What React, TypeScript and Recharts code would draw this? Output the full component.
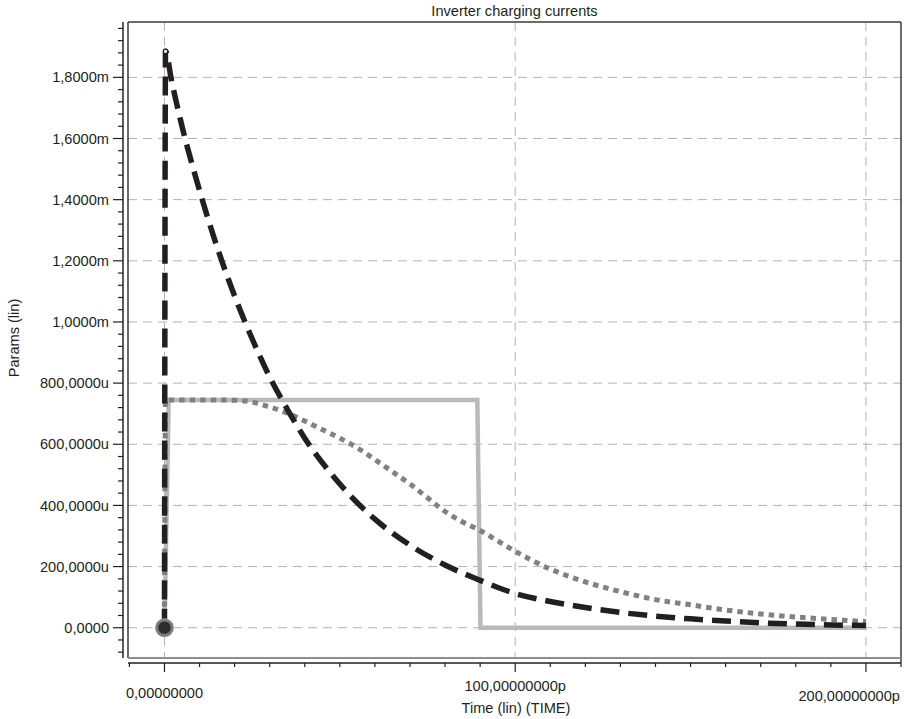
// InverterChargingChart.tsx
import { LineChart, Line, XAxis, YAxis, CartesianGrid } from "recharts";

const WIDTH = 904;
const HEIGHT = 719;
const PLOT = { left: 128, top: 22, right: 901, bottom: 658 };
const AXIS_GAP = 5;
const FONT = "'Liberation Sans', Arial, Helvetica, sans-serif";
const FONT_SIZE = 14.6;
const INK = "#231f20";

// time in ps, currents in uA
const darkTime = [0, 0.3, 2, 5, 10, 15, 20, 25, 30, 35, 40, 50, 60, 70, 80, 90, 100, 110, 120, 130, 140, 150, 160, 170, 180, 190, 200];
const darkCurrent = [0, 1885, 1790, 1640, 1430, 1245, 1085, 945, 820, 715, 620, 470, 355, 270, 205, 155, 112, 86, 66, 50, 38, 29, 22, 16, 12, 9, 7];

const lightTime = [0, 1.2, 89.2, 90.1, 200];
const lightCurrent = [0, 745, 745, 0, 0];

const dottedTime = [0, 0.3, 10, 20, 25, 30, 35, 40, 45, 50, 55, 60, 65, 70, 75, 80, 85, 90, 95, 100, 110, 120, 130, 140, 150, 160, 170, 180, 190, 200];
const dottedCurrent = [0, 745, 745, 744, 738, 722, 702, 676, 648, 620, 588, 550, 510, 470, 425, 380, 346, 318, 284, 250, 192, 150, 118, 92, 75, 58, 45, 35, 27, 20];

const xMajorTicks = [0, 100, 200];
const xTickLabels = ["0,00000000", "100,00000000p", "200,00000000p"];
const xMinorTicks = [-10, 0, 10, 20, 30, 40, 50, 60, 70, 80, 90, 100, 110, 120, 130, 140, 150, 160, 170, 180, 190, 200, 210];

const yMajorTicks = [0, 200, 400, 600, 800, 1000, 1200, 1400, 1600, 1800];
const yTickLabels = ["0,0000", "200,0000u", "400,0000u", "600,0000u", "800,0000u", "1,0000m", "1,2000m", "1,4000m", "1,6000m", "1,8000m"];
const yMinorTicks = Array.from({ length: 52 }, (_, i) => -80 + 40 * i);

const toPoints = (t: number[], v: number[]) => t.map((x, i) => ({ t: x, v: v[i] }));
const darkData = toPoints(darkTime, darkCurrent);
const lightData = toPoints(lightTime, lightCurrent);
const dottedData = toPoints(dottedTime, dottedCurrent);

// label placement for the three x labels (staggered like the original)
const xLabelPlace = [
  { dx: 0, y: 693, anchor: "middle" },
  { dx: 0, y: 686, anchor: "middle" },
  { dx: 34, y: 696, anchor: "end" },
];

const XTick = (props: any) => {
  const { x, payload } = props;
  const axisY = PLOT.bottom + AXIS_GAP;
  const major = xMajorTicks.indexOf(payload.value);
  return (
    <g>
      <line x1={x} x2={x} y1={axisY} y2={axisY + (major >= 0 ? 9 : 4)} stroke={INK} strokeWidth={1.2} />
      {major >= 0 && (
        <text
          x={x + xLabelPlace[major].dx}
          y={xLabelPlace[major].y}
          dy="0.35em"
          textAnchor={xLabelPlace[major].anchor}
          fontSize={FONT_SIZE}
          fontFamily={FONT}
          fill={INK}
        >
          {xTickLabels[major]}
        </text>
      )}
    </g>
  );
};

const YTick = (props: any) => {
  const { y, payload } = props;
  const axisX = PLOT.left - AXIS_GAP;
  const major = yMajorTicks.indexOf(payload.value);
  return (
    <g>
      <line x1={axisX - (major >= 0 ? 10 : 5)} x2={axisX} y1={y} y2={y} stroke={INK} strokeWidth={1.2} />
      {major >= 0 && (
        <text x={axisX - 14} y={y} dy="0.35em" textAnchor="end" fontSize={FONT_SIZE} fontFamily={FONT} fill={INK}>
          {yTickLabels[major]}
        </text>
      )}
    </g>
  );
};

const darkDot = (p: any) => {
  if (p.index === 0)
    return <circle key="d0" cx={p.cx} cy={p.cy} r={7.5} fill="#2e2e2e" stroke="#7a7a7a" strokeWidth={2.5} />;
  if (p.index === 1)
    return <circle key="d1" cx={p.cx} cy={p.cy} r={2.2} fill="#fff" stroke={INK} strokeWidth={1.2} />;
  return <g key={`d${p.index}`} />;
};

const dottedDot = (p: any) => {
  if (p.index === 0) return <circle key="g0" cx={p.cx} cy={p.cy} r={9.5} fill="#a5a5a5" stroke="none" />;
  return <g key={`g${p.index}`} />;
};

const InverterChargingChart = () => {
  return (
    <div style={{ position: "absolute", left: 0, top: 0, width: WIDTH, height: HEIGHT, background: "#fff" }}>
      <LineChart
        width={WIDTH}
        height={HEIGHT}
        margin={{ top: PLOT.top, right: WIDTH - PLOT.right, bottom: 0, left: 0 }}
      >
        <CartesianGrid
          stroke="#b3b3b3"
          strokeDasharray="9 6"
          horizontalValues={yMajorTicks}
          verticalValues={xMajorTicks}
        />

        {/* X Axis */}
        <XAxis
          type="number"
          dataKey="t"
          domain={[-10.4, 210]}
          ticks={xMinorTicks}
          interval={0}
          height={HEIGHT - PLOT.bottom}
          axisLine={false}
          tickLine={false}
          tick={<XTick />}
        />

        {/* Y Axis */}
        <YAxis
          type="number"
          domain={[-99, 1981]}
          ticks={yMinorTicks}
          interval={0}
          width={PLOT.left}
          axisLine={false}
          tickLine={false}
          tick={<YTick />}
        />

        <Line
          data={lightData}
          dataKey="v"
          type="linear"
          stroke="#b8b9bc"
          strokeWidth={4.5}
          dot={false}
          isAnimationActive={false}
        />
        <Line
          data={dottedData}
          dataKey="v"
          type="monotone"
          stroke="#808184"
          strokeWidth={5}
          strokeDasharray="5.5 5"
          dot={dottedDot}
          isAnimationActive={false}
        />
        <Line
          data={darkData}
          dataKey="v"
          type="monotone"
          stroke={INK}
          strokeWidth={5.5}
          strokeDasharray="19 9"
          dot={darkDot}
          isAnimationActive={false}
        />

        {/* frame and offset axis lines */}
        <line x1={PLOT.left} x2={PLOT.right} y1={PLOT.top} y2={PLOT.top} stroke="#3a3a3a" strokeWidth={1.5} />
        <line x1={PLOT.left} x2={PLOT.left} y1={PLOT.top} y2={PLOT.bottom} stroke="#3a3a3a" strokeWidth={1.5} />
        <line x1={PLOT.right} x2={PLOT.right} y1={PLOT.top} y2={PLOT.bottom + AXIS_GAP} stroke="#3a3a3a" strokeWidth={1.5} />
        <line x1={PLOT.left} x2={PLOT.right} y1={PLOT.bottom} y2={PLOT.bottom} stroke="#8e8e8e" strokeWidth={2} />
        <line
          x1={PLOT.left - AXIS_GAP}
          x2={PLOT.left - AXIS_GAP}
          y1={PLOT.top}
          y2={PLOT.bottom}
          stroke="#4a4a4a"
          strokeWidth={1.8}
        />
        <line
          x1={PLOT.left}
          x2={PLOT.right}
          y1={PLOT.bottom + AXIS_GAP}
          y2={PLOT.bottom + AXIS_GAP}
          stroke={INK}
          strokeWidth={1.5}
        />

        <text x={(PLOT.left + PLOT.right) / 2} y={11} dy="0.35em" textAnchor="middle" fontSize={FONT_SIZE} fontFamily={FONT} fill={INK}>
          Inverter charging currents
        </text>
        <text
          x={14}
          y={338}
          dy="0.35em"
          textAnchor="middle"
          fontSize={FONT_SIZE}
          fontFamily={FONT}
          fill={INK}
          transform="rotate(-90 14 338)"
        >
          Params (lin)
        </text>
        <text x={516} y={708} dy="0.35em" textAnchor="middle" fontSize={FONT_SIZE} fontFamily={FONT} fill={INK}>
          Time (lin) (TIME)
        </text>
      </LineChart>
    </div>
  );
};

export default InverterChargingChart;
